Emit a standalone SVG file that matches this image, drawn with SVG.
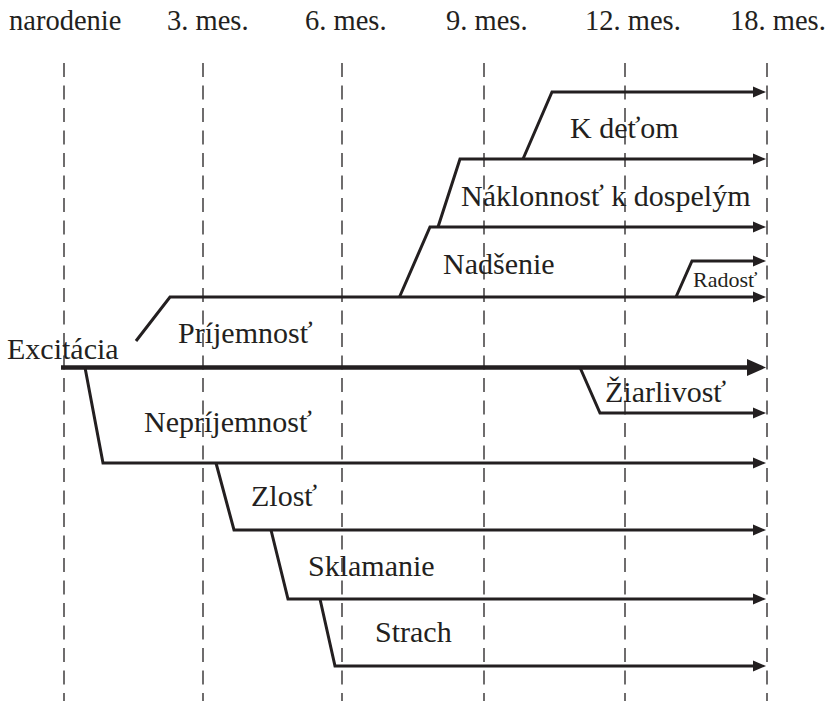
<svg xmlns="http://www.w3.org/2000/svg" width="832" height="701" viewBox="0 0 832 701">
<style>
text{font-family:"Liberation Serif","Times New Roman",serif;fill:#231f20;font-size:30px}
.hdr{font-size:28.5px}
.small{font-size:22px}
.grid line{stroke:#231f20;stroke-width:1.3;stroke-dasharray:14 8.5}
.br{fill:none;stroke:#231f20;stroke-width:3;stroke-linejoin:miter}
.main{fill:none;stroke:#231f20;stroke-width:4.5}
</style>
<defs>
<marker id="ah" markerUnits="userSpaceOnUse" markerWidth="14" markerHeight="12" refX="4" refY="5.5" orient="auto" overflow="visible">
<path d="M0,0 L13,5.5 L0,11 z" fill="#231f20"/>
</marker>
<marker id="ahBig" markerUnits="userSpaceOnUse" markerWidth="20" markerHeight="18" refX="6" refY="8.5" orient="auto" overflow="visible">
<path d="M0,0 L19,8.5 L0,17 z" fill="#231f20"/>
</marker>
</defs>
<rect width="832" height="701" fill="#ffffff"/>
<g id="timeline">
<g class="grid">
<line x1="64" y1="63" x2="64" y2="701"/>
<line x1="203" y1="63" x2="203" y2="701"/>
<line x1="342" y1="63" x2="342" y2="701"/>
<line x1="484" y1="63" x2="484" y2="701"/>
<line x1="625" y1="63" x2="625" y2="701"/>
<line x1="767" y1="63" x2="767" y2="701"/>
</g>
<text class="hdr" x="9" y="30">narodenie</text>
<text class="hdr" x="167" y="30">3. mes.</text>
<text class="hdr" x="305" y="30">6. mes.</text>
<text class="hdr" x="446" y="30">9. mes.</text>
<text class="hdr" x="585" y="30">12. mes.</text>
<text class="hdr" x="730" y="30">18. mes.</text>
</g>
<g id="connectors">
<path class="main" d="M61,367.5 H753" marker-end="url(#ahBig)"/>
<path class="br" d="M136,341 L170,297 H757" marker-end="url(#ah)"/>
<path class="br" d="M399.5,297 L430,227 H757" marker-end="url(#ah)"/>
<path class="br" d="M438,227 L460,159 H757" marker-end="url(#ah)"/>
<path class="br" d="M523,159 L552,92 H757" marker-end="url(#ah)"/>
<path class="br" d="M676,297 L692,261 H757" marker-end="url(#ah)"/>
<path class="br" d="M580,367.5 L600,413 H757" marker-end="url(#ah)"/>
<path class="br" d="M85,367.5 L103,463 H757" marker-end="url(#ah)"/>
<path class="br" d="M216,463 L234,530 H757" marker-end="url(#ah)"/>
<path class="br" d="M271,530 L288,599 H757" marker-end="url(#ah)"/>
<path class="br" d="M320,599 L335,666 H757" marker-end="url(#ah)"/>
</g>
<g id="excitacia"><text x="7" y="359">Excitácia</text></g>
<g id="prijemnost"><text x="178" y="343">Príjemnosť</text></g>
<g id="nadsenie"><text x="443" y="274">Nadšenie</text></g>
<g id="naklonnost"><text x="461" y="206">Náklonnosť k dospelým</text></g>
<g id="k-detom"><text x="570" y="138">K deťom</text></g>
<g id="radost"><text class="small" x="693" y="287">Radosť</text></g>
<g id="ziarlivost"><text x="605" y="402">Žiarlivosť</text></g>
<g id="neprijemnost"><text x="144" y="432">Nepríjemnosť</text></g>
<g id="zlost"><text x="251" y="506">Zlosť</text></g>
<g id="sklamanie"><text x="308" y="576">Sklamanie</text></g>
<g id="strach"><text x="375" y="642">Strach</text></g>
</svg>
